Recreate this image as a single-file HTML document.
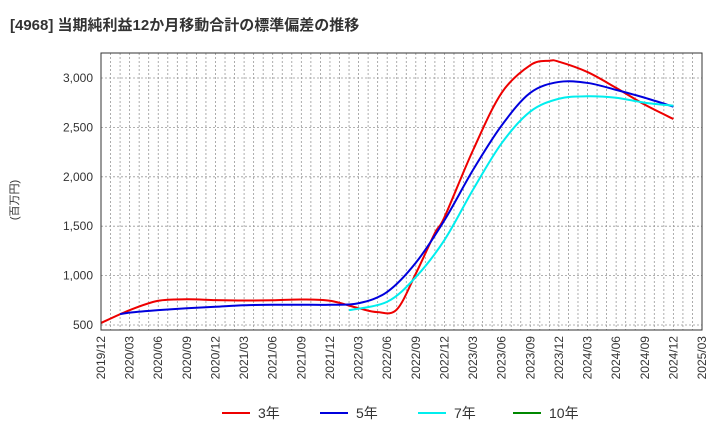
<!DOCTYPE html>
<html><head><meta charset="utf-8"><style>
body{margin:0;background:#fff;font-family:"Liberation Sans","Noto Sans CJK JP",sans-serif}
</style></head><body>
<svg id="c" width="720" height="440" xmlns="http://www.w3.org/2000/svg" font-family="Liberation Sans, Noto Sans CJK JP, sans-serif">
<text x="10" y="30" font-size="15" font-weight="bold" fill="#333">[4968]  当期純利益12か月移動合計の標準偏差の推移</text>
<text transform="translate(18,200) rotate(-90)" font-size="11" fill="#333" text-anchor="middle">(百万円)</text>
<g id="grid"></g><g id="series"></g><g id="axes"></g>
<g font-size="14" fill="#333">
<line x1="222" y1="413" x2="250" y2="413" stroke="#e00" stroke-width="2"/><text x="258" y="418">3年</text>
<line x1="320" y1="413" x2="348" y2="413" stroke="#00d" stroke-width="2"/><text x="356" y="418">5年</text>
<line x1="418" y1="413" x2="446" y2="413" stroke="#0ee" stroke-width="2"/><text x="454" y="418">7年</text>
<line x1="513" y1="413" x2="541" y2="413" stroke="#080" stroke-width="2"/><text x="549" y="418">10年</text>
</g>
</svg>
<script>
const xLabels=["2019/12","2020/03","2020/06","2020/09","2020/12","2021/03","2021/06","2021/09","2021/12","2022/03","2022/06","2022/09","2022/12","2023/03","2023/06","2023/09","2023/12","2024/03","2024/06","2024/09","2024/12","2025/03"];
const yTicks=[500,1000,1500,2000,2500,3000];
const m3=[0,3,6,9,12,15,18,21,24,27,29,31,33,35,36,39,42,45,47,48,51,54,57,60];
const v3=[520,650,745,760,752,748,750,758,745,670,630,656,1020,1430,1590,2270,2850,3130,3175,3165,3060,2900,2730,2585];
const m5=[2,3,6,9,12,15,18,21,24,27,30,33,36,39,42,45,48,51,54,57,60];
const v5=[610,625,650,670,685,700,705,705,705,720,835,1130,1560,2070,2520,2850,2960,2950,2880,2800,2710];
const m7=[26,30,33,36,39,42,45,48,51,54,57,60];
const v7=[650,735,985,1360,1870,2340,2660,2790,2815,2800,2750,2720];
const L=101,R=702,T=53,B=330;
const xs=m=>L+(R-L)*m/63;
const ys=v=>78+(3000-v)/500*49.4;
const NS="http://www.w3.org/2000/svg";
function mk(tag,attrs,parent){const e=document.createElementNS(NS,tag);for(const k in attrs)e.setAttribute(k,attrs[k]);parent.appendChild(e);return e;}
const grid=document.getElementById('grid'),axes=document.getElementById('axes'),ser=document.getElementById('series');
for(let m=1;m<63;m++){const l=mk('line',{x1:xs(m),x2:xs(m),y1:T,y2:B,stroke:'#999','stroke-dasharray':'2,2','stroke-width':0.8},grid);

}
yTicks.forEach(v=>{const l=mk('line',{x1:L,x2:R,y1:ys(v),y2:ys(v),stroke:'#999','stroke-dasharray':'2,2','stroke-width':0.8},grid);


const t=mk('text',{x:93,y:ys(v)+4,'font-size':12,'text-anchor':'end',fill:'#333'},axes);t.textContent=v.toLocaleString('en-US');

});
xLabels.forEach((s,i)=>{const x=xs(i*3);const t=mk('text',{transform:`translate(${x+4},${B+6}) rotate(-90)`,'font-size':12,'text-anchor':'end',fill:'#333'},axes);t.textContent=s;

});
const fr=mk('rect',{x:L,y:T,width:R-L,height:B-T,fill:'none',stroke:'#333','stroke-width':1},axes);


function path(ms,vs,color,name){const p=ms.map((m,i)=>[xs(m),ys(vs[i])]);let d=`M${p[0][0]},${p[0][1]}`;
for(let i=0;i<p.length-1;i++){const p0=p[i-1]||p[i],p1=p[i],p2=p[i+1],p3=p[i+2]||p2;
d+=` C${p1[0]+(p2[0]-p0[0])/6},${p1[1]+(p2[1]-p0[1])/6} ${p2[0]-(p3[0]-p1[0])/6},${p2[1]-(p3[1]-p1[1])/6} ${p2[0]},${p2[1]}`;}
const e=mk('path',{d,fill:'none',stroke:color,'stroke-width':2},ser);

}
path(m3,v3,'#e00','series-3yr');
path(m5,v5,'#00d','series-5yr');
path(m7,v7,'#0ee','series-7yr');
</script>
</body></html>
